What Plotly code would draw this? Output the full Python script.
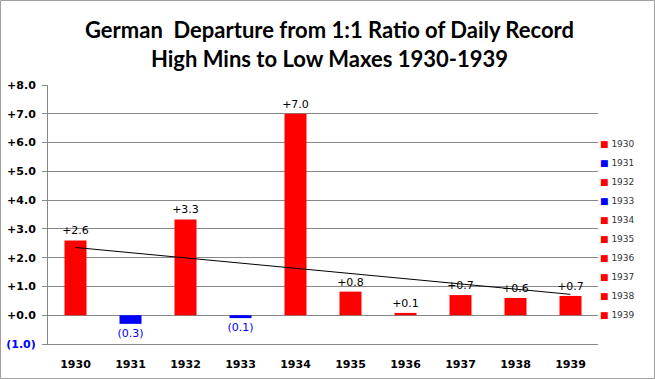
import numpy as np
import plotly.graph_objects as go

years = ["1930", "1931", "1932", "1933", "1934", "1935", "1936", "1937", "1938", "1939"]
values = [2.6, -0.3, 3.33, -0.1, 7.0, 0.82, 0.08, 0.7, 0.6, 0.67]
colors = ["#ff0000", "#0000ff", "#ff0000", "#0000ff", "#ff0000",
          "#ff0000", "#ff0000", "#ff0000", "#ff0000", "#ff0000"]
ytick_vals = [8, 7, 6, 5, 4, 3, 2, 1, 0, -1]
ytick_text = ["+8.0", "+7.0", "+6.0", "+5.0", "+4.0", "+3.0", "+2.0", "+1.0", "+0.0",
              "<span style='color:#0000ff'>(1.0)</span>"]

def fmt(v):
    return "+%.1f" % v if v >= 0 else "(%.1f)" % abs(v)

fig = go.Figure()
for i, (yr, v, c) in enumerate(zip(years, values, colors)):
    fig.add_trace(go.Bar(
        x=[i], y=[v], width=0.4, marker=dict(color=c, line=dict(width=0)),
        text=[fmt(v)], textposition="outside", cliponaxis=False, constraintext="none",
        textfont=dict(family="DejaVu Sans", size=11, color="#000000" if v >= 0 else "#0000ff"),
        showlegend=False, hoverinfo="skip"))
    fig.add_trace(go.Scatter(
        x=[None], y=[None], mode="markers", legendgroup=yr,
        name="<span style='color:%s'>■</span> %s" % (c, yr),
        marker=dict(symbol="square", size=1, color="rgba(0,0,0,0)")))

xs = np.arange(len(values))
slope, intercept = np.polyfit(xs, values, 1)
fig.add_trace(go.Scatter(
    x=[xs[0], xs[-1]], y=[intercept + slope * xs[0], intercept + slope * xs[-1]],
    mode="lines", line=dict(color="#000000", width=1), showlegend=False, hoverinfo="skip"))

fig.update_layout(
    template="none",
    width=655, height=379,
    margin=dict(l=48, r=57, t=85, b=35, autoexpand=False),
    paper_bgcolor="white", plot_bgcolor="white",
    title=dict(text="<b>German  Departure from 1:1 Ratio of Daily Record<br>High Mins to Low Maxes 1930-1939</b>",
               x=329.5 / 655, xanchor="center", xref="container", yref="container", y=1 - 38 / 379, yanchor="middle",
               font=dict(family="Lato", size=22, color="#000000")),
    bargap=0.6,
    xaxis=dict(range=[-0.5, 9.5], tickmode="array", tickvals=list(range(10)), ticktext=["<b>%s</b>" % y for y in years],
               showgrid=False, zeroline=False, showline=True, linecolor="#888888", linewidth=1,
               ticks="", tickfont=dict(family="DejaVu Sans", size=11, color="#000000"),
               ticklabelstandoff=10, automargin=False),
    xaxis2=dict(range=[-0.5, 9.5], overlaying="x", anchor="free", position=28.9 / 259,
                tickmode="array", tickvals=[i + 0.5 for i in range(10)], ticks="outside",
                ticklen=6, tickcolor="#888888", showticklabels=False, showgrid=False,
                zeroline=False, showline=False, side="bottom", automargin=False),
    yaxis=dict(range=[-1, 8], tickmode="array", tickvals=ytick_vals,
               ticktext=["<b>%s</b>" % t for t in ytick_text],
               showgrid=True, gridcolor="#888888", gridwidth=1,
               zeroline=True, zerolinecolor="#888888", zerolinewidth=1,
               showline=True, linecolor="#888888", linewidth=1,
               ticks="outside", ticklen=5, tickcolor="#888888",
               tickfont=dict(family="DejaVu Sans", size=11, color="#000000"), ticklabelstandoff=4,
               automargin=False),
    legend=dict(x=1 - 38 / 550, xanchor="left", y=(344 - 129) / 259, yanchor="top",
                font=dict(family="DejaVu Sans", size=9, color="#333333"),
                tracegroupgap=0, itemwidth=30, bgcolor="rgba(0,0,0,0)"),
    shapes=[dict(type="rect", xref="paper", yref="paper",
                 x0=-47.5 / 550, x1=606.5 / 550, y0=-34.5 / 259, y1=343.5 / 259,
                 line=dict(color="#a0a0a0", width=1), fillcolor="rgba(0,0,0,0)", layer="below")],
)

fig.write_html("out.html", config={"displayModeBar": False},
               post_script="document.body.style.margin='0';")
